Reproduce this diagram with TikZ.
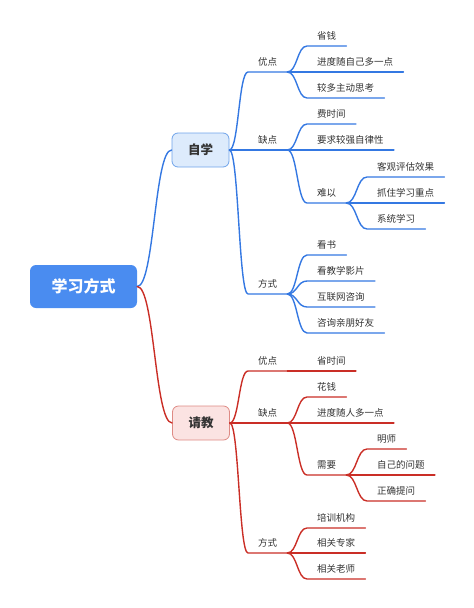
\documentclass[tikz,border=0pt]{standalone}
\usepackage{fontspec}
\setmainfont{Noto Sans CJK SC}
\usetikzlibrary{calc}
\definecolor{rootc}{HTML}{4A8CF0}
\definecolor{blu}{HTML}{3478E2}
\definecolor{blufill}{HTML}{DDEBFC}
\definecolor{bluedge}{HTML}{6FA3EA}
\definecolor{rd}{HTML}{CA2E26}
\definecolor{rdfill}{HTML}{FBE3E2}
\definecolor{rdedge}{HTML}{DE8A84}
\definecolor{txt}{HTML}{333333}

\begin{document}
\begin{tikzpicture}[x=1pt,y=1pt,
    root/.style={rectangle,rounded corners=6pt,fill=rootc,text=white,minimum width=107pt,minimum height=43pt,font=\fontsize{16}{18}\selectfont\bfseries},
    sub/.style={rectangle,rounded corners=6pt,draw,line width=0.8pt,minimum width=57pt,minimum height=34pt,font=\fontsize{12.5}{14}\selectfont\bfseries,text=txt},
    lbl/.style={anchor=south west,inner xsep=10pt,inner ysep=0pt,text height=8pt,text depth=6pt,font=\fontsize{9.5}{11}\selectfont,text=txt},
    br/.style={to path={let \p1=(\tikztostart),\p2=(\tikztotarget) in .. controls ({(\x1+\x2)/2},\y1) and ({(\x1+\x2)/2},\y2) .. (\tikztotarget)}},
    bl/.style={draw=blu,line width=1.4pt,line cap=round},
    rl/.style={draw=rd,line width=1.4pt,line cap=round}
]
\useasboundingbox (0,0) rectangle (474,-608);

\node[root] (root) at (83.5,-286.5) {学习方式};
\node[sub,fill=blufill,draw=bluedge] (zixue) at (200.5,-150) {自学};
\node[sub,fill=rdfill,draw=rdedge] (qingjiao) at (201,-423) {请教};

% 自学
\node[lbl] (zyou) at (248,-72) {优点};
\node[lbl] (zque) at (248,-150) {缺点};
\node[lbl] (zfang) at (248,-294) {方式};
\node[lbl] (zy1) at (307,-46) {省钱};
\node[lbl] (zy2) at (307,-72) {进度随自己多一点};
\node[lbl] (zy3) at (307,-98) {较多主动思考};
\node[lbl] (zq1) at (307,-124) {费时间};
\node[lbl] (zq2) at (307,-150) {要求较强自律性};
\node[lbl] (zq3) at (307,-203) {难以};
\node[lbl] (zn1) at (367,-177) {客观评估效果};
\node[lbl] (zn2) at (367,-203) {抓住学习重点};
\node[lbl] (zn3) at (367,-229) {系统学习};
\node[lbl] (zf1) at (307,-255) {看书};
\node[lbl] (zf2) at (307,-281) {看教学影片};
\node[lbl] (zf3) at (307,-307) {互联网咨询};
\node[lbl] (zf4) at (307,-333) {咨询亲朋好友};

% 请教
\node[lbl] (qyou) at (248,-371) {优点};
\node[lbl] (qque) at (248,-423) {缺点};
\node[lbl] (qfang) at (248,-553) {方式};
\node[lbl] (qy1) at (307,-371) {省时间};
\node[lbl] (qq1) at (307,-397) {花钱};
\node[lbl] (qq2) at (307,-423) {进度随人多一点};
\node[lbl] (qq3) at (307,-475) {需要};
\node[lbl] (qx1) at (367,-449) {明师};
\node[lbl] (qx2) at (367,-475) {自己的问题};
\node[lbl] (qx3) at (367,-501) {正确提问};
\node[lbl] (qf1) at (307,-528) {培训机构};
\node[lbl] (qf2) at (307,-553) {相关专家};
\node[lbl] (qf3) at (307,-579) {相关老师};

\draw[bl] (root.east) to[br] (zixue.west);
\draw[rl] (root.east) to[br] (qingjiao.west);

\foreach \c in {zyou,zque,zfang}
  \draw[bl] (zixue.east) to[br] (\c.south west) -- (\c.south east);
\foreach \c in {qyou,qque,qfang}
  \draw[rl] (qingjiao.east) to[br] (\c.south west) -- (\c.south east);

\foreach \p/\c in {zyou/zy1,zyou/zy2,zyou/zy3,zque/zq1,zque/zq2,zque/zq3,zq3/zn1,zq3/zn2,zq3/zn3,zfang/zf1,zfang/zf2,zfang/zf3,zfang/zf4}
  \draw[bl] (\p.south east) to[br] (\c.south west) -- (\c.south east);
\foreach \p/\c in {qyou/qy1,qque/qq1,qque/qq2,qque/qq3,qq3/qx1,qq3/qx2,qq3/qx3,qfang/qf1,qfang/qf2,qfang/qf3}
  \draw[rl] (\p.south east) to[br] (\c.south west) -- (\c.south east);
\end{tikzpicture}
\end{document}
